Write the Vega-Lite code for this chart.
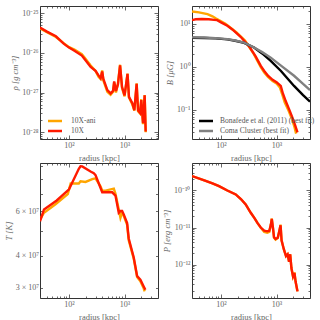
{
  "$schema": "https://vega.github.io/schema/vega-lite/v6.json",
  "padding": {"left": 3, "top": 5, "right": 0, "bottom": 0},
  "background": "white",
  "config": {
    "view": {"stroke": "#333", "strokeWidth": 1},
    "axis": {"labelFont": "Liberation Serif", "titleFont": "Liberation Serif", "labelFontSize": 8, "titleFontSize": 8.5, "labelColor": "#666", "titleColor": "#666", "titleFontWeight": "normal", "domain": false, "grid": false, "tickColor": "#444", "tickWidth": 0.8, "labelOverlap": false, "labelFlush": false},
    "legend": {"labelFont": "Liberation Serif", "labelFontSize": 7.5, "labelColor": "#555", "padding": 0, "rowPadding": 0, "symbolStrokeWidth": 2.5, "symbolType": "M-2,0L2,0", "symbolSize": 49}
  },
  "datasets": {
    "rho": [
      {"r":30,"v":4.1e-26,"s":"10X-ani"},{"r":40,"v":3.3e-26,"s":"10X-ani"},{"r":58,"v":2.5e-26,"s":"10X-ani"},{"r":80,"v":1.75e-26,"s":"10X-ani"},{"r":100,"v":1.38e-26,"s":"10X-ani"},{"r":125,"v":1.2e-26,"s":"10X-ani"},{"r":170,"v":9.2e-27,"s":"10X-ani"},{"r":190,"v":7.6e-27,"s":"10X-ani"},{"r":245,"v":4.8e-27,"s":"10X-ani"},{"r":300,"v":3.5e-27,"s":"10X-ani"},{"r":340,"v":2.5e-27,"s":"10X-ani"},{"r":370,"v":2.2e-27,"s":"10X-ani"},{"r":395,"v":3.6e-27,"s":"10X-ani"},{"r":415,"v":2.0e-27,"s":"10X-ani"},{"r":490,"v":1.05e-27,"s":"10X-ani"},{"r":560,"v":8.8e-28,"s":"10X-ani"},{"r":620,"v":1.05e-27,"s":"10X-ani"},{"r":650,"v":1.8e-27,"s":"10X-ani"},{"r":700,"v":1.0e-27,"s":"10X-ani"},{"r":760,"v":1.7e-27,"s":"10X-ani"},{"r":830,"v":5.0e-27,"s":"10X-ani"},{"r":900,"v":1.3e-27,"s":"10X-ani"},{"r":1000,"v":8.0e-28,"s":"10X-ani"},{"r":1130,"v":3.0e-27,"s":"10X-ani"},{"r":1200,"v":7.5e-28,"s":"10X-ani"},{"r":1380,"v":5.0e-28,"s":"10X-ani"},{"r":1500,"v":3.5e-28,"s":"10X-ani"},{"r":1650,"v":1.7e-27,"s":"10X-ani"},{"r":1750,"v":3.4e-28,"s":"10X-ani"},{"r":1900,"v":3.0e-28,"s":"10X-ani"},{"r":2000,"v":6.8e-28,"s":"10X-ani"},{"r":2150,"v":1.6e-28,"s":"10X-ani"},{"r":2300,"v":8.7e-28,"s":"10X-ani"},{"r":2400,"v":1.0e-28,"s":"10X-ani"},
      {"r":30,"v":4.3e-26,"s":"10X"},{"r":40,"v":3.4e-26,"s":"10X"},{"r":58,"v":2.6e-26,"s":"10X"},{"r":80,"v":1.7e-26,"s":"10X"},{"r":100,"v":1.35e-26,"s":"10X"},{"r":125,"v":1.12e-26,"s":"10X"},{"r":170,"v":8.5e-27,"s":"10X"},{"r":190,"v":7.0e-27,"s":"10X"},{"r":245,"v":4.4e-27,"s":"10X"},{"r":300,"v":3.5e-27,"s":"10X"},{"r":340,"v":2.7e-27,"s":"10X"},{"r":370,"v":2.3e-27,"s":"10X"},{"r":395,"v":3.4e-27,"s":"10X"},{"r":415,"v":2.2e-27,"s":"10X"},{"r":490,"v":1.15e-27,"s":"10X"},{"r":560,"v":9.5e-28,"s":"10X"},{"r":620,"v":1.1e-27,"s":"10X"},{"r":650,"v":1.9e-27,"s":"10X"},{"r":700,"v":1.1e-27,"s":"10X"},{"r":760,"v":1.6e-27,"s":"10X"},{"r":830,"v":4.8e-27,"s":"10X"},{"r":900,"v":1.4e-27,"s":"10X"},{"r":1000,"v":8.5e-28,"s":"10X"},{"r":1130,"v":2.95e-27,"s":"10X"},{"r":1200,"v":7.8e-28,"s":"10X"},{"r":1380,"v":5.4e-28,"s":"10X"},{"r":1500,"v":3.6e-28,"s":"10X"},{"r":1650,"v":1.66e-27,"s":"10X"},{"r":1750,"v":3.6e-28,"s":"10X"},{"r":1900,"v":3.1e-28,"s":"10X"},{"r":2000,"v":6.5e-28,"s":"10X"},{"r":2150,"v":1.7e-28,"s":"10X"},{"r":2300,"v":8.5e-28,"s":"10X"},{"r":2400,"v":1.05e-28,"s":"10X"}
    ],
    "B": [
      {"r":30,"v":19.3,"s":"10X-ani"},{"r":40,"v":18.5,"s":"10X-ani"},{"r":57,"v":16.8,"s":"10X-ani"},{"r":70,"v":15.0,"s":"10X-ani"},{"r":80,"v":13.5,"s":"10X-ani"},{"r":100,"v":11.5,"s":"10X-ani"},{"r":120,"v":10.0,"s":"10X-ani"},{"r":150,"v":8.0,"s":"10X-ani"},{"r":190,"v":6.3,"s":"10X-ani"},{"r":270,"v":4.1,"s":"10X-ani"},{"r":380,"v":2.1,"s":"10X-ani"},{"r":450,"v":1.4,"s":"10X-ani"},{"r":520,"v":0.98,"s":"10X-ani"},{"r":600,"v":0.74,"s":"10X-ani"},{"r":700,"v":0.58,"s":"10X-ani"},{"r":850,"v":0.47,"s":"10X-ani"},{"r":1000,"v":0.41,"s":"10X-ani"},{"r":1150,"v":0.33,"s":"10X-ani"},{"r":1250,"v":0.24,"s":"10X-ani"},{"r":1400,"v":0.15,"s":"10X-ani"},{"r":1650,"v":0.095,"s":"10X-ani"},{"r":1900,"v":0.06,"s":"10X-ani"},{"r":2100,"v":0.04,"s":"10X-ani"},{"r":2250,"v":0.028,"s":"10X-ani"},
      {"r":30,"v":12.2,"s":"10X"},{"r":35,"v":12.8,"s":"10X"},{"r":45,"v":13.0,"s":"10X"},{"r":60,"v":12.8,"s":"10X"},{"r":75,"v":12.4,"s":"10X"},{"r":85,"v":12.2,"s":"10X"},{"r":100,"v":10.8,"s":"10X"},{"r":130,"v":9.0,"s":"10X"},{"r":160,"v":7.4,"s":"10X"},{"r":225,"v":5.0,"s":"10X"},{"r":320,"v":3.0,"s":"10X"},{"r":420,"v":1.75,"s":"10X"},{"r":520,"v":1.05,"s":"10X"},{"r":600,"v":0.8,"s":"10X"},{"r":700,"v":0.62,"s":"10X"},{"r":850,"v":0.5,"s":"10X"},{"r":1000,"v":0.44,"s":"10X"},{"r":1190,"v":0.36,"s":"10X"},{"r":1300,"v":0.24,"s":"10X"},{"r":1460,"v":0.16,"s":"10X"},{"r":1700,"v":0.1,"s":"10X"},{"r":1930,"v":0.066,"s":"10X"},{"r":2150,"v":0.045,"s":"10X"},{"r":2380,"v":0.03,"s":"10X"},
      {"r":30,"v":4.75,"s":"Bonafede et al. (2011) (best fit)"},{"r":50,"v":4.7,"s":"Bonafede et al. (2011) (best fit)"},{"r":80,"v":4.6,"s":"Bonafede et al. (2011) (best fit)"},{"r":130,"v":4.35,"s":"Bonafede et al. (2011) (best fit)"},{"r":180,"v":4.05,"s":"Bonafede et al. (2011) (best fit)"},{"r":260,"v":3.6,"s":"Bonafede et al. (2011) (best fit)"},{"r":393,"v":2.82,"s":"Bonafede et al. (2011) (best fit)"},{"r":550,"v":2.05,"s":"Bonafede et al. (2011) (best fit)"},{"r":785,"v":1.38,"s":"Bonafede et al. (2011) (best fit)"},{"r":1200,"v":0.8,"s":"Bonafede et al. (2011) (best fit)"},{"r":2065,"v":0.36,"s":"Bonafede et al. (2011) (best fit)"},{"r":3000,"v":0.22,"s":"Bonafede et al. (2011) (best fit)"},{"r":4000,"v":0.155,"s":"Bonafede et al. (2011) (best fit)"},
      {"r":30,"v":4.85,"s":"Coma Cluster (best fit)"},{"r":50,"v":4.8,"s":"Coma Cluster (best fit)"},{"r":80,"v":4.65,"s":"Coma Cluster (best fit)"},{"r":130,"v":4.4,"s":"Coma Cluster (best fit)"},{"r":180,"v":4.1,"s":"Coma Cluster (best fit)"},{"r":260,"v":3.67,"s":"Coma Cluster (best fit)"},{"r":393,"v":2.82,"s":"Coma Cluster (best fit)"},{"r":550,"v":2.2,"s":"Coma Cluster (best fit)"},{"r":785,"v":1.64,"s":"Coma Cluster (best fit)"},{"r":1200,"v":1.07,"s":"Coma Cluster (best fit)"},{"r":2065,"v":0.62,"s":"Coma Cluster (best fit)"},{"r":3000,"v":0.4,"s":"Coma Cluster (best fit)"},{"r":4000,"v":0.29,"s":"Coma Cluster (best fit)"}
    ],
    "T": [
      {"r":30,"v":5.55e7,"s":"10X-ani"},{"r":35.4,"v":5.91e7,"s":"10X-ani"},{"r":57,"v":6.38e7,"s":"10X-ani"},{"r":95,"v":7.0e7,"s":"10X-ani"},{"r":107,"v":7.7e7,"s":"10X-ani"},{"r":150,"v":7.7e7,"s":"10X-ani"},{"r":161,"v":7.86e7,"s":"10X-ani"},{"r":198,"v":7.81e7,"s":"10X-ani"},{"r":262,"v":8.01e7,"s":"10X-ani"},{"r":300,"v":8.06e7,"s":"10X-ani"},{"r":369,"v":7.5e7,"s":"10X-ani"},{"r":396,"v":7.22e7,"s":"10X-ani"},{"r":454,"v":7.22e7,"s":"10X-ani"},{"r":640,"v":7.35e7,"s":"10X-ani"},{"r":686,"v":7.01e7,"s":"10X-ani"},{"r":786,"v":6.09e7,"s":"10X-ani"},{"r":843,"v":5.64e7,"s":"10X-ani"},{"r":904,"v":5.91e7,"s":"10X-ani"},{"r":966,"v":5.75e7,"s":"10X-ani"},{"r":1112,"v":5.3e7,"s":"10X-ani"},{"r":1188,"v":4.6e7,"s":"10X-ani"},{"r":1462,"v":3.9e7,"s":"10X-ani"},{"r":1682,"v":3.3e7,"s":"10X-ani"},{"r":1928,"v":3.18e7,"s":"10X-ani"},{"r":2210,"v":2.98e7,"s":"10X-ani"},{"r":2300,"v":2.9e7,"s":"10X-ani"},
      {"r":30,"v":5.47e7,"s":"10X"},{"r":35.4,"v":6.09e7,"s":"10X"},{"r":60,"v":6.6e7,"s":"10X"},{"r":100,"v":7.3e7,"s":"10X"},{"r":150,"v":8.8e7,"s":"10X"},{"r":161,"v":9.0e7,"s":"10X"},{"r":173,"v":8.99e7,"s":"10X"},{"r":244,"v":8.58e7,"s":"10X"},{"r":279,"v":8.45e7,"s":"10X"},{"r":300,"v":8.31e7,"s":"10X"},{"r":396,"v":7.11e7,"s":"10X"},{"r":598,"v":7.11e7,"s":"10X"},{"r":686,"v":6.9e7,"s":"10X"},{"r":786,"v":5.91e7,"s":"10X"},{"r":843,"v":6.0e7,"s":"10X"},{"r":904,"v":6.0e7,"s":"10X"},{"r":966,"v":5.82e7,"s":"10X"},{"r":1112,"v":5.38e7,"s":"10X"},{"r":1188,"v":4.68e7,"s":"10X"},{"r":1462,"v":3.94e7,"s":"10X"},{"r":1682,"v":3.33e7,"s":"10X"},{"r":1928,"v":3.22e7,"s":"10X"},{"r":2210,"v":3.03e7,"s":"10X"},{"r":2370,"v":2.94e7,"s":"10X"}
    ],
    "P": [
      {"r":30,"v":2.45e-10,"s":"10X-ani"},{"r":50,"v":1.87e-10,"s":"10X-ani"},{"r":70,"v":1.55e-10,"s":"10X-ani"},{"r":92,"v":1.31e-10,"s":"10X-ani"},{"r":130,"v":1.0e-10,"s":"10X-ani"},{"r":184,"v":7.8e-11,"s":"10X-ani"},{"r":230,"v":5.8e-11,"s":"10X-ani"},{"r":278,"v":4.2e-11,"s":"10X-ani"},{"r":343,"v":2.5e-11,"s":"10X-ani"},{"r":400,"v":1.8e-11,"s":"10X-ani"},{"r":452,"v":1.33e-11,"s":"10X-ani"},{"r":520,"v":9.8e-12,"s":"10X-ani"},{"r":600,"v":7.6e-12,"s":"10X-ani"},{"r":680,"v":7.2e-12,"s":"10X-ani"},{"r":740,"v":7.6e-12,"s":"10X-ani"},{"r":790,"v":1.2e-11,"s":"10X-ani"},{"r":820,"v":1.75e-11,"s":"10X-ani"},{"r":860,"v":1.0e-11,"s":"10X-ani"},{"r":900,"v":5.3e-12,"s":"10X-ani"},{"r":960,"v":4.7e-12,"s":"10X-ani"},{"r":1050,"v":5.2e-12,"s":"10X-ani"},{"r":1120,"v":8e-12,"s":"10X-ani"},{"r":1180,"v":1.2e-11,"s":"10X-ani"},{"r":1230,"v":4.5e-12,"s":"10X-ani"},{"r":1350,"v":2.6e-12,"s":"10X-ani"},{"r":1480,"v":1.7e-12,"s":"10X-ani"},{"r":1580,"v":1.9e-12,"s":"10X-ani"},{"r":1680,"v":1.2e-12,"s":"10X-ani"},{"r":1760,"v":1.9e-12,"s":"10X-ani"},{"r":1850,"v":8.1e-13,"s":"10X-ani"},{"r":1980,"v":4.8e-13,"s":"10X-ani"},{"r":2100,"v":6.2e-13,"s":"10X-ani"},{"r":2200,"v":3.5e-13,"s":"10X-ani"},{"r":2380,"v":1.9e-13,"s":"10X-ani"},
      {"r":30,"v":2.45e-10,"s":"10X"},{"r":50,"v":1.87e-10,"s":"10X"},{"r":70,"v":1.55e-10,"s":"10X"},{"r":92,"v":1.31e-10,"s":"10X"},{"r":130,"v":1.0e-10,"s":"10X"},{"r":184,"v":7.8e-11,"s":"10X"},{"r":230,"v":5.8e-11,"s":"10X"},{"r":278,"v":4.2e-11,"s":"10X"},{"r":343,"v":2.5e-11,"s":"10X"},{"r":400,"v":1.8e-11,"s":"10X"},{"r":452,"v":1.33e-11,"s":"10X"},{"r":520,"v":1.0e-11,"s":"10X"},{"r":600,"v":8.3e-12,"s":"10X"},{"r":680,"v":7.9e-12,"s":"10X"},{"r":740,"v":8.2e-12,"s":"10X"},{"r":790,"v":1.2e-11,"s":"10X"},{"r":820,"v":1.7e-11,"s":"10X"},{"r":860,"v":1.0e-11,"s":"10X"},{"r":900,"v":5.5e-12,"s":"10X"},{"r":960,"v":4.9e-12,"s":"10X"},{"r":1050,"v":5.3e-12,"s":"10X"},{"r":1120,"v":8e-12,"s":"10X"},{"r":1180,"v":1.15e-11,"s":"10X"},{"r":1230,"v":4.5e-12,"s":"10X"},{"r":1350,"v":2.6e-12,"s":"10X"},{"r":1480,"v":1.7e-12,"s":"10X"},{"r":1580,"v":1.9e-12,"s":"10X"},{"r":1680,"v":1.2e-12,"s":"10X"},{"r":1760,"v":1.9e-12,"s":"10X"},{"r":1850,"v":8.1e-13,"s":"10X"},{"r":1980,"v":4.8e-13,"s":"10X"},{"r":2100,"v":6.0e-13,"s":"10X"},{"r":2200,"v":3.5e-13,"s":"10X"},{"r":2380,"v":1.9e-13,"s":"10X"}
    ]
  },
  "columns": 2,
  "spacing": {"row": 24, "column": 34},
  "bounds": "flush",
  "resolve": {"scale": {"color": "independent"}, "legend": {"color": "independent"}},
  "concat": [
    {
      "width": 118, "height": 133,
      "data": {"name": "rho"},
      "layer": [
        {"mark": {"type": "line", "strokeWidth": 2.4, "clip": true},
         "encoding": {
           "x": {"field": "r", "type": "quantitative", "scale": {"type": "log", "domain": [30, 4000]},
                 "axis": {"orient": "bottom", "values": [30,40,50,60,70,80,90,100,200,300,400,500,600,700,800,900,1000,2000,3000,4000], "labelExpr": "datum.value==100?'10²':datum.value==1000?'10³':''", "tickSize": {"condition": {"test": "datum.value==100||datum.value==1000", "value": -4}, "value": -2}, "title": "radius [kpc]", "labelPadding": 6, "titlePadding": 2}},
           "y": {"field": "v", "type": "quantitative", "scale": {"type": "log", "domain": [6.8e-29, 1.5e-25]},
                 "axis": {"orient": "left", "values": [7e-29,8e-29,9e-29,1e-28,2e-28,3e-28,4e-28,5e-28,6e-28,7e-28,8e-28,9e-28,1e-27,2e-27,3e-27,4e-27,5e-27,6e-27,7e-27,8e-27,9e-27,1e-26,2e-26,3e-26,4e-26,5e-26,6e-26,7e-26,8e-26,9e-26,1e-25], "labelExpr": "datum.value==1e-25?'10⁻²⁵':datum.value==1e-26?'10⁻²⁶':datum.value==1e-27?'10⁻²⁷':datum.value==1e-28?'10⁻²⁸':''", "tickSize": {"condition": {"test": "datum.value==1e-25||datum.value==1e-26||datum.value==1e-27||datum.value==1e-28", "value": -4}, "value": -2}, "title": "ρ [g cm⁻³]", "titleFontStyle": "italic", "labelPadding": 6, "titlePadding": 2}},
           "color": {"field": "s", "type": "nominal", "sort": null, "scale": {"domain": ["10X-ani", "10X"], "range": ["#ffa500", "#ff1a00"]},
                     "legend": {"orient": "none", "legendX": 10, "legendY": 110, "title": null, "labelOffset": 11}}
         }},
        {"mark": {"type": "point", "opacity": 0},
         "encoding": {
           "x": {"field": "r", "type": "quantitative", "scale": {"type": "log", "domain": [30, 4000]},
                 "axis": {"orient": "top", "values": [30,40,50,60,70,80,90,100,200,300,400,500,600,700,800,900,1000,2000,3000,4000], "labels": false, "title": null, "tickSize": {"condition": {"test": "datum.value==100||datum.value==1000", "value": -4}, "value": -2}}},
           "y": {"field": "v", "type": "quantitative", "scale": {"type": "log", "domain": [6.8e-29, 1.5e-25]},
                 "axis": {"orient": "right", "values": [7e-29,8e-29,9e-29,1e-28,2e-28,3e-28,4e-28,5e-28,6e-28,7e-28,8e-28,9e-28,1e-27,2e-27,3e-27,4e-27,5e-27,6e-27,7e-27,8e-27,9e-27,1e-26,2e-26,3e-26,4e-26,5e-26,6e-26,7e-26,8e-26,9e-26,1e-25], "labels": false, "title": null, "tickSize": {"condition": {"test": "datum.value==1e-25||datum.value==1e-26||datum.value==1e-27||datum.value==1e-28", "value": -4}, "value": -2}}}
         }}
      ],
      "resolve": {"axis": {"x": "independent", "y": "independent"}}
    },
    {
      "width": 118, "height": 133,
      "data": {"name": "B"},
      "layer": [
        {"mark": {"type": "line", "strokeWidth": 2.4, "clip": true},
         "encoding": {
           "x": {"field": "r", "type": "quantitative", "scale": {"type": "log", "domain": [30, 4000]},
                 "axis": {"orient": "bottom", "values": [30,40,50,60,70,80,90,100,200,300,400,500,600,700,800,900,1000,2000,3000,4000], "labelExpr": "datum.value==100?'10²':datum.value==1000?'10³':''", "tickSize": {"condition": {"test": "datum.value==100||datum.value==1000", "value": -4}, "value": -2}, "title": "radius [kpc]", "labelPadding": 6, "titlePadding": 2}},
           "y": {"field": "v", "type": "quantitative", "scale": {"type": "log", "domain": [0.021, 26]},
                 "axis": {"orient": "left", "values": [0.03,0.04,0.05,0.06,0.07,0.08,0.09,0.1,0.2,0.3,0.4,0.5,0.6,0.7,0.8,0.9,1,2,3,4,5,6,7,8,9,10,20], "labelExpr": "datum.value==0.1?'10⁻¹':datum.value==1?'10⁰':datum.value==10?'10¹':''", "tickSize": {"condition": {"test": "datum.value==0.1||datum.value==1||datum.value==10", "value": -4}, "value": -2}, "title": "B [μG]", "titleFontStyle": "italic", "labelPadding": 6, "titlePadding": 2}},
           "color": {"field": "s", "type": "nominal", "sort": null, "scale": {"domain": ["10X-ani", "10X", "Bonafede et al. (2011) (best fit)", "Coma Cluster (best fit)"], "range": ["#ffa500", "#ff1a00", "#000000", "#808080"]},
                     "legend": {"orient": "none", "legendX": 9, "legendY": 110, "title": null, "labelOffset": 9, "values": ["Bonafede et al. (2011) (best fit)", "Coma Cluster (best fit)"]}}
         }},
        {"mark": {"type": "point", "opacity": 0},
         "encoding": {
           "x": {"field": "r", "type": "quantitative", "scale": {"type": "log", "domain": [30, 4000]},
                 "axis": {"orient": "top", "values": [30,40,50,60,70,80,90,100,200,300,400,500,600,700,800,900,1000,2000,3000,4000], "labels": false, "title": null, "tickSize": {"condition": {"test": "datum.value==100||datum.value==1000", "value": -4}, "value": -2}}},
           "y": {"field": "v", "type": "quantitative", "scale": {"type": "log", "domain": [0.021, 26]},
                 "axis": {"orient": "right", "values": [0.03,0.04,0.05,0.06,0.07,0.08,0.09,0.1,0.2,0.3,0.4,0.5,0.6,0.7,0.8,0.9,1,2,3,4,5,6,7,8,9,10,20], "labels": false, "title": null, "tickSize": {"condition": {"test": "datum.value==0.1||datum.value==1||datum.value==10", "value": -4}, "value": -2}}}
         }}
      ],
      "resolve": {"axis": {"x": "independent", "y": "independent"}}
    },
    {
      "width": 118, "height": 135,
      "data": {"name": "T"},
      "layer": [
        {"mark": {"type": "line", "strokeWidth": 2.4, "clip": true},
         "encoding": {
           "x": {"field": "r", "type": "quantitative", "scale": {"type": "log", "domain": [30, 4000]},
                 "axis": {"orient": "bottom", "values": [30,40,50,60,70,80,90,100,200,300,400,500,600,700,800,900,1000,2000,3000,4000], "labelExpr": "datum.value==100?'10²':datum.value==1000?'10³':''", "tickSize": {"condition": {"test": "datum.value==100||datum.value==1000", "value": -4}, "value": -2}, "title": "radius [kpc]", "labelPadding": 6, "titlePadding": 2}},
           "y": {"field": "v", "type": "quantitative", "scale": {"type": "log", "domain": [2.73e7, 9.27e7]},
                 "axis": {"orient": "left", "values": [3e7,4e7,5e7,6e7,7e7,8e7,9e7], "labelExpr": "datum.value==3e7?'3 × 10⁷':datum.value==4e7?'4 × 10⁷':datum.value==6e7?'6 × 10⁷':''", "tickSize": -2.5, "title": "T [K]", "titleFontStyle": "italic", "labelPadding": 4, "titlePadding": 2}},
           "color": {"field": "s", "type": "nominal", "sort": null, "scale": {"domain": ["10X-ani", "10X"], "range": ["#ffa500", "#ff1a00"]}, "legend": null}
         }},
        {"mark": {"type": "point", "opacity": 0},
         "encoding": {
           "x": {"field": "r", "type": "quantitative", "scale": {"type": "log", "domain": [30, 4000]},
                 "axis": {"orient": "top", "values": [30,40,50,60,70,80,90,100,200,300,400,500,600,700,800,900,1000,2000,3000,4000], "labels": false, "title": null, "tickSize": {"condition": {"test": "datum.value==100||datum.value==1000", "value": -4}, "value": -2}}},
           "y": {"field": "v", "type": "quantitative", "scale": {"type": "log", "domain": [2.73e7, 9.27e7]},
                 "axis": {"orient": "right", "values": [3e7,4e7,5e7,6e7,7e7,8e7,9e7], "labels": false, "title": null, "tickSize": -2.5}}
         }}
      ],
      "resolve": {"axis": {"x": "independent", "y": "independent"}}
    },
    {
      "width": 118, "height": 135,
      "data": {"name": "P"},
      "layer": [
        {"mark": {"type": "line", "strokeWidth": 2.4, "clip": true},
         "encoding": {
           "x": {"field": "r", "type": "quantitative", "scale": {"type": "log", "domain": [30, 4000]},
                 "axis": {"orient": "bottom", "values": [30,40,50,60,70,80,90,100,200,300,400,500,600,700,800,900,1000,2000,3000,4000], "labelExpr": "datum.value==100?'10²':datum.value==1000?'10³':''", "tickSize": {"condition": {"test": "datum.value==100||datum.value==1000", "value": -4}, "value": -2}, "title": "radius [kpc]", "labelPadding": 6, "titlePadding": 2}},
           "y": {"field": "v", "type": "quantitative", "scale": {"type": "log", "domain": [1.26e-13, 5.5e-10]},
                 "axis": {"orient": "left", "values": [2e-13,3e-13,4e-13,5e-13,6e-13,7e-13,8e-13,9e-13,1e-12,2e-12,3e-12,4e-12,5e-12,6e-12,7e-12,8e-12,9e-12,1e-11,2e-11,3e-11,4e-11,5e-11,6e-11,7e-11,8e-11,9e-11,1e-10,2e-10,3e-10,4e-10,5e-10], "labelExpr": "datum.value==1e-10?'10⁻¹⁰':datum.value==1e-11?'10⁻¹¹':datum.value==1e-12?'10⁻¹²':''", "tickSize": {"condition": {"test": "datum.value==1e-10||datum.value==1e-11||datum.value==1e-12", "value": -4}, "value": -2}, "title": "P [erg cm⁻³]", "titleFontStyle": "italic", "labelPadding": 6, "titlePadding": 2}},
           "color": {"field": "s", "type": "nominal", "sort": null, "scale": {"domain": ["10X-ani", "10X"], "range": ["#ffa500", "#ff1a00"]}, "legend": null}
         }},
        {"mark": {"type": "point", "opacity": 0},
         "encoding": {
           "x": {"field": "r", "type": "quantitative", "scale": {"type": "log", "domain": [30, 4000]},
                 "axis": {"orient": "top", "values": [30,40,50,60,70,80,90,100,200,300,400,500,600,700,800,900,1000,2000,3000,4000], "labels": false, "title": null, "tickSize": {"condition": {"test": "datum.value==100||datum.value==1000", "value": -4}, "value": -2}}},
           "y": {"field": "v", "type": "quantitative", "scale": {"type": "log", "domain": [1.26e-13, 5.5e-10]},
                 "axis": {"orient": "right", "values": [2e-13,3e-13,4e-13,5e-13,6e-13,7e-13,8e-13,9e-13,1e-12,2e-12,3e-12,4e-12,5e-12,6e-12,7e-12,8e-12,9e-12,1e-11,2e-11,3e-11,4e-11,5e-11,6e-11,7e-11,8e-11,9e-11,1e-10,2e-10,3e-10,4e-10,5e-10], "labels": false, "title": null, "tickSize": {"condition": {"test": "datum.value==1e-10||datum.value==1e-11||datum.value==1e-12", "value": -4}, "value": -2}}}
         }}
      ],
      "resolve": {"axis": {"x": "independent", "y": "independent"}}
    }
  ]
}
